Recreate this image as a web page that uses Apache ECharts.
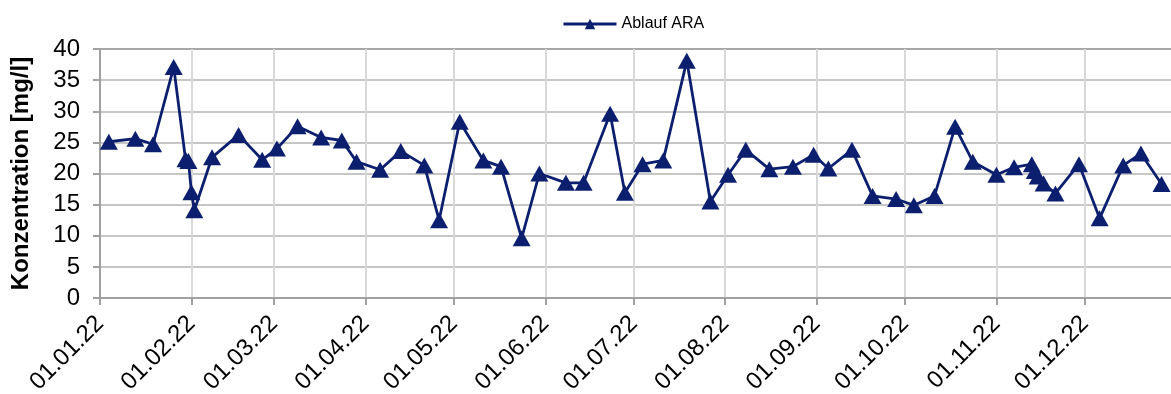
<!DOCTYPE html>
<html>
<head>
<meta charset="utf-8">
<script src="https://cdn.jsdelivr.net/npm/echarts@6/dist/echarts.min.js"></script>
<style>
html,body{margin:0;padding:0;background:#fff;}
#chart{width:1171px;height:394px;}
</style>
</head>
<body>
<div id="chart"></div>
<script>
const seriesName = 'Ablauf ARA';
const yAxisTitle = 'Konzentration [mg/l]';
const dates = ['2022-01-04','2022-01-13','2022-01-19','2022-01-26','2022-01-30','2022-01-31','2022-02-01','2022-02-02','2022-02-08','2022-02-17','2022-02-25','2022-03-02','2022-03-09','2022-03-17','2022-03-24','2022-03-29','2022-04-06','2022-04-13','2022-04-21','2022-04-26','2022-05-03','2022-05-11','2022-05-17','2022-05-24','2022-05-30','2022-06-08','2022-06-14','2022-06-23','2022-06-28','2022-07-04','2022-07-11','2022-07-19','2022-07-27','2022-08-02','2022-08-08','2022-08-16','2022-08-24','2022-08-31','2022-09-05','2022-09-13','2022-09-20','2022-09-28','2022-10-04','2022-10-11','2022-10-18','2022-10-24','2022-11-01','2022-11-07','2022-11-13','2022-11-14','2022-11-15','2022-11-17','2022-11-21','2022-11-29','2022-12-06','2022-12-14','2022-12-20','2022-12-27'];
const values = [25.1,25.6,24.7,37.1,22.3,22.0,17.0,14.1,22.6,26.2,22.2,24.0,27.6,25.8,25.3,21.9,20.6,23.6,21.3,12.5,28.3,22.1,21.1,9.6,20.0,18.5,18.5,29.6,16.9,21.5,22.1,38.1,15.5,19.8,23.8,20.7,21.1,23.0,20.8,23.8,16.4,15.9,14.9,16.4,27.5,21.9,19.8,21.0,21.5,20.4,19.5,18.4,16.8,21.5,12.8,21.3,23.2,18.3];
const monthTicks = ['2022-01-01','2022-02-01','2022-03-01','2022-04-01','2022-05-01','2022-06-01','2022-07-01','2022-08-01','2022-09-01','2022-10-01','2022-11-01','2022-12-01'];

function toTs(s){const p=s.split('-');return new Date(+p[0],+p[1]-1,+p[2]).getTime();}
const tickTs = monthTicks.map(toTs);
const data = dates.map((d,i)=>[toTs(d), values[i]]);
function pad(n){return (n<10?'0':'')+n;}
function fmt(v){const d=new Date(v);return pad(d.getDate())+'.'+pad(d.getMonth()+1)+'.'+String(d.getFullYear()).slice(2);}

const chart = echarts.init(document.getElementById('chart'), null, {renderer:'canvas'});
const font = 'Liberation Sans, Arial, sans-serif';
chart.setOption({
  animation:false,
  backgroundColor:'#fff',
  textStyle:{fontFamily:font},
  legend:{
    top:11, left:557, itemWidth:53, itemHeight:13, itemGap:10,
    lineStyle:{width:3},
    textStyle:{fontSize:16, color:'#000', fontFamily:font},
    data:[seriesName]
  },
  grid:{left:100, right:0, top:49, bottom:96, containLabel:false, outerBoundsMode:'none'},
  xAxis:{
    type:'value',
    min:toTs('2022-01-01'),
    max:new Date(2022,11,30,5).getTime(),
    axisLine:{show:true, onZero:false, lineStyle:{color:'#a0a0a0', width:2}},
    axisTick:{show:true, length:7, lineStyle:{color:'#a0a0a0', width:2}, customValues:tickTs},
    axisLabel:{customValues:tickTs, formatter:fmt, rotate:45, fontSize:24, color:'#000', margin:22, fontFamily:font, hideOverlap:false},
    splitLine:{show:true, customValues:tickTs, lineStyle:{color:'#d9d9d9', width:2}}
  },
  yAxis:{
    type:'value', min:0, max:40, interval:5,
    name:yAxisTitle, nameLocation:'middle', nameGap:67, nameRotate:90,
    nameTextStyle:{fontSize:24, fontWeight:'bold', color:'#000', fontFamily:font},
    axisLine:{show:true, lineStyle:{color:'#a0a0a0', width:2}},
    axisTick:{show:true, length:7, lineStyle:{color:'#a0a0a0', width:2}},
    axisLabel:{fontSize:24, color:'#000', margin:20, fontFamily:font},
    splitLine:{show:true, lineStyle:{color:['#c6c6c6','#c6c6c6','#c6c6c6','#c6c6c6','#c6c6c6','#c6c6c6','#c6c6c6','#c6c6c6','#a8a8a8'], width:2}}
  },
  series:[{
    name:seriesName, type:'line', data:data,
    symbol:'triangle', symbolSize:[18,16], showAllSymbol:true,
    lineStyle:{color:'#0c1f6f', width:2.8},
    itemStyle:{color:'#0c1f6f'},
    emphasis:{disabled:true}
  }]
});
</script>
</body>
</html>
